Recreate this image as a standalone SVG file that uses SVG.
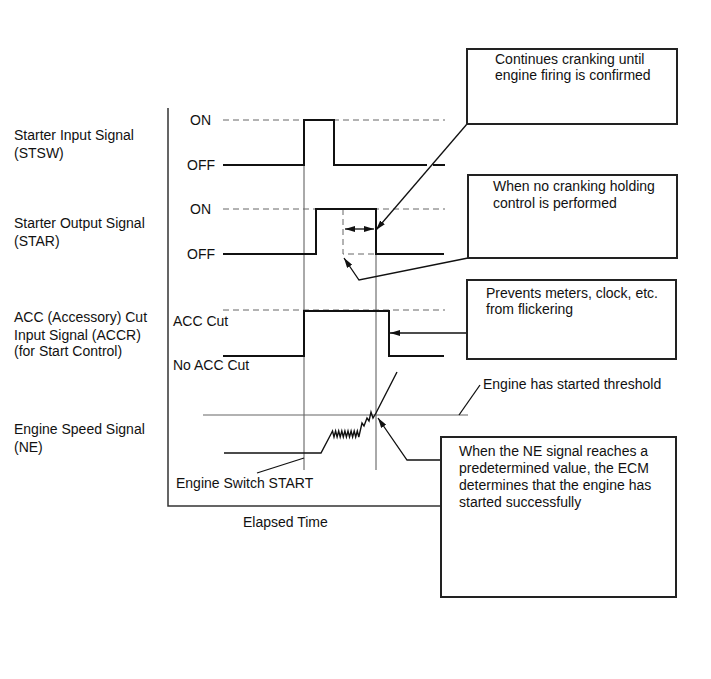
<svg xmlns="http://www.w3.org/2000/svg" width="711" height="679" viewBox="0 0 711 679">
<style>
.t{font-family:"Liberation Sans",Arial,sans-serif;font-size:14px;fill:#111}
.sig{fill:none;stroke:#111;stroke-width:2}
.guide{fill:none;stroke:#555;stroke-width:1}
.dash{fill:none;stroke:#666;stroke-width:1;stroke-dasharray:6 4}
.box{fill:#fff;stroke:#222;stroke-width:2}
.lead{fill:none;stroke:#111;stroke-width:1.3}
</style>
<defs>
<marker id="ah" viewBox="0 0 10 6" refX="10" refY="3" markerWidth="10" markerHeight="6" orient="auto-start-reverse" markerUnits="userSpaceOnUse"><path d="M0,0 L10,3 L0,6 z" fill="#111"/></marker>
</defs>
<rect width="711" height="679" fill="#fff"/>

<g id="axis">
<path d="M168,108 V506 H441" fill="none" stroke="#333" stroke-width="1.5"/>
<text class="t" x="243" y="527">Elapsed Time</text>
</g>

<g id="labels">
<text class="t" x="14" y="140">Starter Input Signal</text>
<text class="t" x="14" y="158">(STSW)</text>
<text class="t" x="14" y="228">Starter Output Signal</text>
<text class="t" x="14" y="246">(STAR)</text>
<text class="t" x="14" y="322">ACC (Accessory) Cut</text>
<text class="t" x="14" y="340">Input Signal (ACCR)</text>
<text class="t" x="14" y="356">(for Start Control)</text>
<text class="t" x="14" y="434">Engine Speed Signal</text>
<text class="t" x="14" y="452">(NE)</text>
<text class="t" x="190" y="125">ON</text>
<text class="t" x="187" y="170">OFF</text>
<text class="t" x="190" y="214">ON</text>
<text class="t" x="187" y="259">OFF</text>
<text class="t" x="173" y="326">ACC Cut</text>
<text class="t" x="173" y="370">No ACC Cut</text>
<text class="t" x="176" y="488">Engine Switch START</text>
<text class="t" x="483" y="389">Engine has started threshold</text>
</g>

<g id="guides">
<path class="guide" d="M304,120 V470 M376,209 V470"/>
<path class="dash" d="M223,120 H445 M223,209 H445 M223,310 H445"/>
<path class="dash" d="M343,209 V254 H376"/>
<path d="M203,415 H468" fill="none" stroke="#666" stroke-width="1.2"/>
</g>

<g id="signals">
<path class="sig" d="M223,165 H304 V120 H334 V165 H427 M433,165 H445"/>
<path class="sig" d="M223,254 H316 V209 H376 V254 H444"/>
<path class="sig" d="M223,356 H304 V311 H389 V356 H444"/>
<path d="M224,453 H321 L331,434 L332.5,431 L334,437 L335.6,431 L337.1,437 L338.7,431 L340.2,437 L341.8,431 L343.3,437 L344.9,431 L346.4,437 L348,431 L349.5,437 L351.1,431 L352.6,437 L354.2,431 L355.7,437 L357.3,431 L358.8,437 L362,423 L364,426 L367,418 L369,421 L371,412 L373,418 L376,413 L397,372" fill="none" stroke="#111" stroke-width="1.4"/>
</g>

<g id="connectors">
<path class="lead" d="M345,229 H374" marker-start="url(#ah)" marker-end="url(#ah)"/>
<path class="lead" d="M467,124 L376,230" marker-end="url(#ah)"/>
<path class="lead" d="M468,258 L359,280 L344,258" marker-end="url(#ah)"/>
<path class="lead" d="M467,333 H390" marker-end="url(#ah)"/>
<path class="lead" d="M441,460 H407 L378,418" marker-end="url(#ah)"/>
<path class="lead" d="M304,458 L257,473"/>
<path class="lead" d="M459,415 L480,385"/>
</g>

<g id="box1">
<rect class="box" x="467" y="49" width="210" height="75"/>
<text class="t" x="495" y="64">Continues cranking until</text>
<text class="t" x="495" y="80">engine firing is confirmed</text>
</g>
<g id="box2">
<rect class="box" x="468" y="175" width="209" height="83"/>
<text class="t" x="493" y="191">When no cranking holding</text>
<text class="t" x="493" y="208">control is performed</text>
</g>
<g id="box3">
<rect class="box" x="467" y="280" width="209" height="79"/>
<text class="t" x="486" y="298">Prevents meters, clock, etc.</text>
<text class="t" x="486" y="314">from flickering</text>
</g>
<g id="box4">
<rect class="box" x="441" y="437" width="235" height="160"/>
<text class="t" x="459" y="456">When the NE signal reaches a</text>
<text class="t" x="459" y="473">predetermined value, the ECM</text>
<text class="t" x="459" y="490">determines that the engine has</text>
<text class="t" x="459" y="507">started successfully</text>
</g>
</svg>
